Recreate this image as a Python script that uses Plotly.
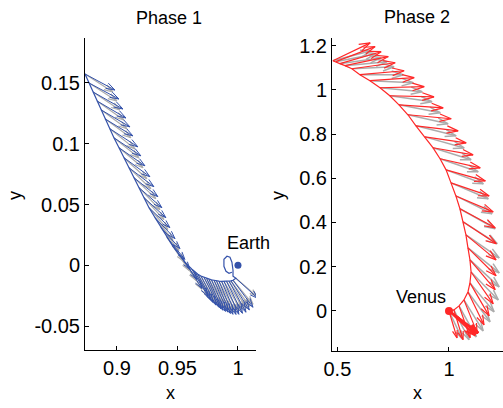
import math
import plotly.graph_objects as go

# ---------------- Data ----------------
# Phase 1 (Earth departure) trajectory points = thrust arrow bases
p1_x = [0.8736, 0.8769, 0.8802, 0.8835, 0.8868, 0.8901, 0.8942, 0.8975, 0.9017, 0.9058,
        0.9099, 0.9140, 0.9182, 0.9223, 0.9264, 0.9314, 0.9364, 0.9413, 0.9463, 0.9521,
        0.9570, 0.9620, 0.9645, 0.9669, 0.9694, 0.9719, 0.9740, 0.9760, 0.9781, 0.9802,
        0.9822, 0.9843, 0.9864, 0.9884, 0.9905, 0.9926, 0.9942, 0.9959, 0.9983]
p1_y = [0.1574, 0.1500, 0.1426, 0.1352, 0.1279, 0.1205, 0.1123, 0.1049, 0.0967, 0.0885,
        0.0803, 0.0721, 0.0639, 0.0557, 0.0475, 0.0393, 0.0311, 0.0230, 0.0156, 0.0082,
        0.0016, -0.0033, -0.0055, -0.0074, -0.0088, -0.0098, -0.0107, -0.0115, -0.0120, -0.0123,
        -0.0128, -0.0131, -0.0132, -0.0131, -0.0131, -0.0131, -0.0128, -0.0123, -0.0107]
# thrust vectors (blue) and reference vectors (gray)
p1_u = [0.0247, 0.0247, 0.0247, 0.0239, 0.0239, 0.0230, 0.0230, 0.0222, 0.0214, 0.0214,
        0.0206, 0.0198, 0.0189, 0.0181, 0.0173, 0.0165, 0.0156, 0.0148, 0.0140, 0.0140,
        0.0132, 0.0132, 0.0128, 0.0123, 0.0123, 0.0123, 0.0119, 0.0115, 0.0115, 0.0115,
        0.0115, 0.0115, 0.0119, 0.0123, 0.0132, 0.0140, 0.0152, 0.0165, 0.0181]
p1_v = [-0.0132, -0.0132, -0.0140, -0.0140, -0.0140, -0.0140, -0.0148, -0.0148, -0.0148, -0.0156,
        -0.0156, -0.0156, -0.0165, -0.0165, -0.0165, -0.0173, -0.0173, -0.0181, -0.0189, -0.0198,
        -0.0206, -0.0222, -0.0226, -0.0230, -0.0239, -0.0247, -0.0251, -0.0255, -0.0259, -0.0263,
        -0.0268, -0.0272, -0.0272, -0.0272, -0.0264, -0.0255, -0.0239, -0.0222, -0.0165]
p1_gu = [0.0230, 0.0230, 0.0222, 0.0222, 0.0214, 0.0214, 0.0206, 0.0206, 0.0198, 0.0189,
         0.0181, 0.0181, 0.0173, 0.0165, 0.0156, 0.0148, 0.0148, 0.0140, 0.0132, 0.0132,
         0.0132, 0.0132, 0.0132, 0.0132, 0.0132, 0.0132, 0.0132, 0.0132, 0.0132, 0.0132,
         0.0132, 0.0132, 0.0136, 0.0140, 0.0144, 0.0148, 0.0156, 0.0165, 0.0173]
p1_gv = [-0.0148, -0.0148, -0.0148, -0.0156, -0.0156, -0.0156, -0.0165, -0.0165, -0.0165, -0.0173,
         -0.0173, -0.0173, -0.0181, -0.0181, -0.0181, -0.0189, -0.0189, -0.0198, -0.0198, -0.0206,
         -0.0214, -0.0222, -0.0226, -0.0230, -0.0235, -0.0239, -0.0239, -0.0239, -0.0243, -0.0247,
         -0.0247, -0.0247, -0.0243, -0.0239, -0.0230, -0.0222, -0.0210, -0.0198, -0.0148]
# small loop near Earth
p1_loop_x = [0.9983, 0.9959, 0.9959, 0.9950, 0.9934, 0.9909, 0.9884, 0.9884, 0.9901, 0.9926, 0.9950]
p1_loop_y = [-0.0107, -0.0090, -0.0041, 0.0025, 0.0066, 0.0074, 0.0049, -0.0008, -0.0049, -0.0066, -0.0057]

earth_xy = (1.0, 0.0)

# Phase 2 (Venus) trajectory points = thrust arrow bases
p2_x = [0.480, 0.493, 0.511, 0.534, 0.565, 0.601, 0.646, 0.691, 0.735, 0.776,
        0.816, 0.852, 0.892, 0.928, 0.960, 0.987, 1.009, 1.031, 1.049, 1.063,
        1.076, 1.085, 1.094, 1.099, 1.094, 1.085, 1.067, 1.045, 1.022, 1.000]
p2_y = [1.131, 1.127, 1.118, 1.109, 1.095, 1.068, 1.041, 1.009, 0.973, 0.932,
        0.887, 0.837, 0.787, 0.738, 0.688, 0.638, 0.579, 0.520, 0.462, 0.403,
        0.344, 0.285, 0.231, 0.176, 0.127, 0.086, 0.050, 0.023, 0.005, 0.000]
p2_u = [0.167, 0.176, 0.185, 0.194, 0.194, 0.198, 0.198, 0.198, 0.198, 0.198,
        0.194, 0.189, 0.185, 0.180, 0.180, 0.176, 0.171, 0.167, 0.158, 0.149,
        0.135, 0.126, 0.113, 0.099, 0.086, 0.072, 0.059, 0.050, 0.041, 0.036]
p2_v = [0.081, 0.068, 0.054, 0.041, 0.027, 0.018, 0.014, 0.005, -0.005, -0.014,
        -0.018, -0.023, -0.027, -0.032, -0.041, -0.050, -0.059, -0.072, -0.086, -0.099,
        -0.113, -0.126, -0.135, -0.144, -0.149, -0.149, -0.149, -0.144, -0.135, -0.122]
p2_gu = [0.171, 0.180, 0.185, 0.189, 0.189, 0.194, 0.194, 0.189, 0.189, 0.185,
         0.180, 0.180, 0.176, 0.171, 0.171, 0.167, 0.167, 0.162, 0.158, 0.153,
         0.149, 0.140, 0.131, 0.122, 0.108, 0.099, 0.086, 0.077, 0.068, 0.059]
p2_gv = [0.045, 0.036, 0.027, 0.018, 0.009, 0.000, -0.009, -0.018, -0.027, -0.036,
         -0.041, -0.045, -0.050, -0.054, -0.059, -0.063, -0.072, -0.081, -0.090, -0.099,
         -0.104, -0.113, -0.122, -0.126, -0.131, -0.135, -0.140, -0.140, -0.135, -0.126]
# cluster of thrust arrows right at Venus
p2c_x = [1.000, 1.008, 1.016, 1.026, 1.038, 1.000]
p2c_y = [0.000, -0.005, -0.010, -0.018, -0.027, 0.000]
p2c_u = [0.131, 0.122, 0.112, 0.098, 0.086, 0.118]
p2c_v = [-0.099, -0.094, -0.089, -0.080, -0.073, -0.110]

venus_xy = (1.0, 0.0)

# ---------------- Layout constants ----------------
W, H = 503, 408
X1_DOM, Y1_DOM = [85 / W, 256 / W], [(H - 350) / H, (H - 38) / H]
X2_DOM, Y2_DOM = [332 / W, 1.0], [(H - 351) / H, (H - 38) / H]
X1_RNG, Y1_RNG = [0.8736, 1.0149], [-0.0697, 0.187]
X2_RNG, Y2_RNG = [0.476, 1.242], [-0.181, 1.234]

BLUE = "rgb(52,82,170)"
RED = "rgb(255,40,40)"
GRAY = "rgb(172,172,172)"
FONT = "Liberation Sans, Arial, Helvetica, sans-serif"


def scale(dom, rng, size):
    return (dom[1] - dom[0]) * size / (rng[1] - rng[0])


def quiver_segments(bx, by, u, v, sx, sy, frac=0.28, ang=18):
    xs, ys = [], []
    a = math.radians(ang)
    for x0, y0, du, dv in zip(bx, by, u, v):
        x1, y1 = x0 + du, y0 + dv
        px, py = du * sx, dv * sy
        L = math.hypot(px, py)
        ex, ey = px / L, py / L
        h = frac * L
        xs += [x0, x1, None]
        ys += [y0, y1, None]
        barbs = []
        for s in (1, -1):
            c, sn = math.cos(s * a), math.sin(s * a)
            rx, ry = ex * c - ey * sn, ex * sn + ey * c
            barbs.append((x1 - h * rx / sx, y1 - h * ry / sy))
        xs += [barbs[0][0], x1, barbs[1][0], None]
        ys += [barbs[0][1], y1, barbs[1][1], None]
    return xs, ys


sx1, sy1 = scale(X1_DOM, X1_RNG, W), scale(Y1_DOM, Y1_RNG, H)
sx2, sy2 = scale(X2_DOM, X2_RNG, W), scale(Y2_DOM, Y2_RNG, H)

fig = go.Figure()


def add_lines(xs, ys, color, xa, ya, width=1):
    fig.add_trace(go.Scatter(x=xs, y=ys, mode="lines", line=dict(color=color, width=width),
                             xaxis=xa, yaxis=ya, hoverinfo="skip", showlegend=False,
                             cliponaxis=False))


# Phase 1
gx, gy = quiver_segments(p1_x, p1_y, p1_gu, p1_gv, sx1, sy1)
add_lines(gx, gy, GRAY, "x", "y", 1.2)
bx, by = quiver_segments(p1_x, p1_y, p1_u, p1_v, sx1, sy1)
add_lines(bx, by, BLUE, "x", "y")
add_lines(p1_x + p1_loop_x, p1_y + p1_loop_y, BLUE, "x", "y", 1.2)
fig.add_trace(go.Scatter(x=[earth_xy[0]], y=[earth_xy[1]], mode="markers",
                         marker=dict(color=BLUE, size=7), xaxis="x", yaxis="y",
                         hoverinfo="skip", showlegend=False))

# Phase 2
gx, gy = quiver_segments(p2_x, p2_y, p2_gu, p2_gv, sx2, sy2)
add_lines(gx, gy, GRAY, "x2", "y2", 1.5)
rx, ry = quiver_segments(p2_x, p2_y, p2_u, p2_v, sx2, sy2)
add_lines(rx, ry, RED, "x2", "y2", 1.2)
cx, cy = quiver_segments(p2c_x, p2c_y, p2c_u, p2c_v, sx2, sy2)
add_lines(cx, cy, RED, "x2", "y2", 2)
add_lines(p2_x, p2_y, RED, "x2", "y2", 1.2)
fig.add_trace(go.Scatter(x=[venus_xy[0]], y=[venus_xy[1]], mode="markers",
                         marker=dict(color=RED, size=8), xaxis="x2", yaxis="y2",
                         hoverinfo="skip", showlegend=False))

axis_common = dict(showline=True, linecolor="black", linewidth=1, ticks="inside",
                   ticklen=4, tickcolor="black", showgrid=False, zeroline=False,
                   automargin=False,
                   tickfont=dict(family=FONT, size=20, color="black"), fixedrange=True)

fig.update_layout(
    width=W, height=H, margin=dict(l=0, r=0, t=0, b=0, pad=0, autoexpand=False),
    paper_bgcolor="white", plot_bgcolor="white",
    xaxis=dict(domain=X1_DOM, range=X1_RNG, anchor="y", tickvals=[0.9, 0.95, 1.0],
               ticktext=["0.9", "0.95", "1"], **axis_common),
    yaxis=dict(domain=Y1_DOM, range=Y1_RNG, anchor="x",
               tickvals=[-0.05, 0, 0.05, 0.1, 0.15],
               ticktext=["-0.05", "0", "0.05", "0.1", "0.15"], **axis_common),
    xaxis2=dict(domain=X2_DOM, range=X2_RNG, anchor="y2", tickvals=[0.5, 1.0],
                ticktext=["0.5", "1"], **axis_common),
    yaxis2=dict(domain=Y2_DOM, range=Y2_RNG, anchor="x2",
                tickvals=[0, 0.2, 0.4, 0.6, 0.8, 1.0, 1.2],
                ticktext=["0", "0.2", "0.4", "0.6", "0.8", "1", "1.2"], **axis_common),
)

tf = dict(family=FONT, size=18, color="black")
ann = [
    dict(text="Phase 1", x=169 / W, y=1 - 18 / H),
    dict(text="Phase 2", x=417 / W, y=1 - 17 / H),
    dict(text="x", x=170 / W, y=1 - 393 / H),
    dict(text="x", x=417 / W, y=1 - 393 / H),
    dict(text="y", x=15 / W, y=1 - 196 / H, textangle=-90),
    dict(text="y", x=278 / W, y=1 - 196 / H, textangle=-90),
]
for a in ann:
    fig.add_annotation(xref="paper", yref="paper", showarrow=False, font=tf,
                       xanchor="center", yanchor="middle", **a)
fig.add_annotation(text="Earth", x=1.009, y=0.018, xref="x", yref="y", showarrow=False,
                   font=tf, xanchor="center", yanchor="middle")
fig.add_annotation(text="Venus", x=0.874, y=0.063, xref="x2", yref="y2", showarrow=False,
                   font=tf, xanchor="center", yanchor="middle")

fig.write_html("out.html")
